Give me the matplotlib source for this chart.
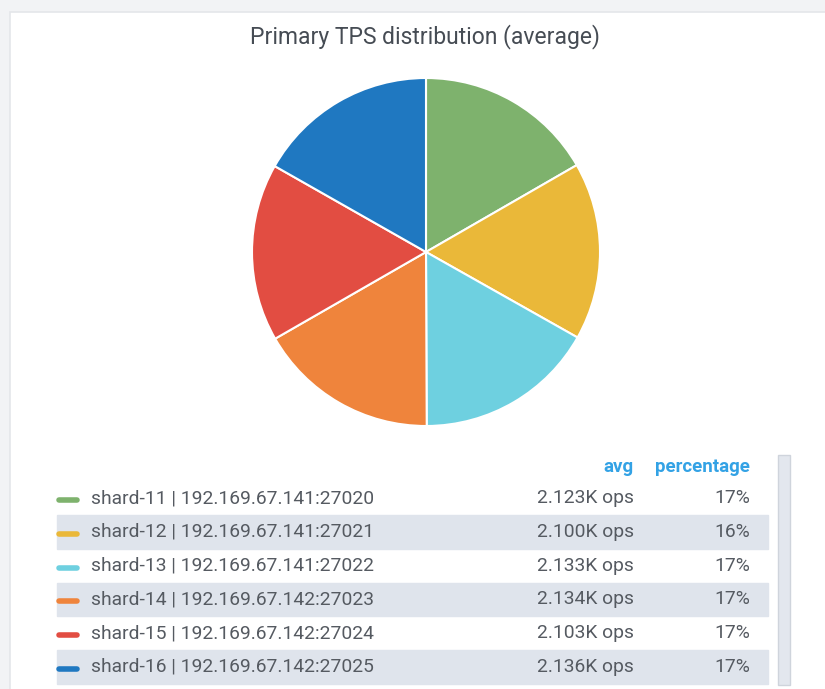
import matplotlib.pyplot as plt
from matplotlib.patches import Rectangle

plt.rcParams["font.family"] = ["Roboto", "DejaVu Sans"]

TITLE = "Primary TPS distribution (average)"
shards = ["shard-11", "shard-12", "shard-13", "shard-14", "shard-15", "shard-16"]
hosts = ["192.169.67.141:27020", "192.169.67.141:27021", "192.169.67.141:27022",
         "192.169.67.142:27023", "192.169.67.142:27024", "192.169.67.142:27025"]
avg_kops = [2.123, 2.100, 2.133, 2.134, 2.103, 2.136]
percent = [17, 16, 17, 17, 17, 17]
colors = ["#7eb26d", "#eab839", "#6ed0e0", "#ef843c", "#e24d42", "#1f78c1"]

W, H = 825, 689
fig = plt.figure(figsize=(W / 100, H / 100), dpi=100)
fig.patch.set_facecolor("white")

# overlay in pixel coordinates for the panel chrome and the legend table
bg = fig.add_axes([0, 0, 1, 1])
bg.set_xlim(0, W)
bg.set_ylim(H, 0)
bg.axis("off")
bg.add_patch(Rectangle((0, 0), W, 12, color="#f2f3f5", zorder=0))
bg.add_patch(Rectangle((0, 0), 10, H, color="#f2f3f5", zorder=0))
bg.add_patch(Rectangle((10, 12), W, H, facecolor="white", edgecolor="#e4e6ea", lw=1.2, zorder=0.5))

bg.text(425, 37, TITLE, ha="center", va="center", fontsize=16.5, color="#464c54")

# pie
cx, cy, r = 426, 252, 174
pie_ax = fig.add_axes([(cx - r) / W, 1 - (cy + r) / H, 2 * r / W, 2 * r / H])
pie_ax.pie(avg_kops, colors=colors, startangle=90, counterclock=False,
           wedgeprops=dict(edgecolor="white", linewidth=1.5))
pie_ax.set_aspect("auto")
pie_ax.set_xlim(-1, 1)
pie_ax.set_ylim(-1, 1)

# legend table
row0, row_h = 498, 33.8
bg.text(634, 467, "avg", ha="right", va="center", fontsize=13.5, color="#33a2e5", fontweight="bold")
bg.text(750, 467, "percentage", ha="right", va="center", fontsize=13.5, color="#33a2e5", fontweight="bold")
for i, (s, h, a, p, c) in enumerate(zip(shards, hosts, avg_kops, percent, colors)):
    y = row0 + i * row_h
    if i % 2 == 1:
        bg.add_patch(Rectangle((57, y - row_h / 2), 711, row_h, color="#dfe4ec", zorder=1))
    bg.plot([59, 77], [y + 2, y + 2], color=c, lw=4, solid_capstyle="round", zorder=2)
    bg.text(91, y, f"{s} | {h}", ha="left", va="center", fontsize=13.9, color="#555a61", zorder=3)
    bg.text(634, y, f"{a:.3f}K ops", ha="right", va="center", fontsize=13.9, color="#555a61", zorder=3)
    bg.text(750, y, f"{p}%", ha="right", va="center", fontsize=13.9, color="#555a61", zorder=3)

# scrollbar
bg.add_patch(Rectangle((778, 455), 12, 230, facecolor="#e3e7ee", edgecolor="#cfd4dc", lw=1, zorder=1))

fig.savefig("out.png", dpi=100, facecolor=fig.get_facecolor())
